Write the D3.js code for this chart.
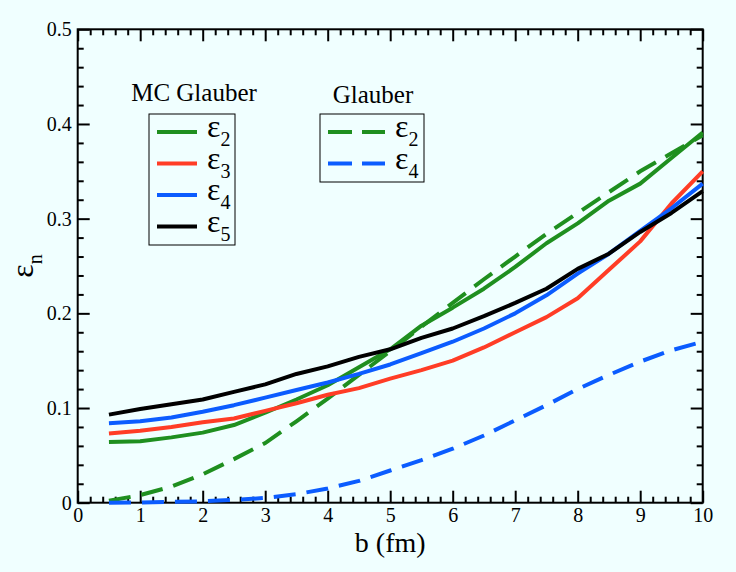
<!DOCTYPE html>
<html lang="en">
<head>
	<meta charset="UTF-8">
	<title>Eccentricity vs impact parameter</title>
	<style>
		body { margin: 0; background: #f0ffff; }
		text { font-family: "Liberation Serif", "Times New Roman", serif; fill: #000; }
		.axis path, .axis line { stroke: #000; stroke-width: 2; }
		.axis .domain { display: none; }
	</style>
</head>
<body>
	<svg id="chart"></svg>
	<script src="https://cdn.jsdelivr.net/npm/d3@7"></script>
	<script>
		// impact parameter (fm)
		var bValues = [0.5, 1, 1.5, 2, 2.5, 3, 3.5, 4, 4.5, 5, 5.5, 6, 6.5, 7, 7.5, 8, 8.5, 9, 9.5, 10];

		// MC Glauber
		var mcEps2 = [0.064, 0.065, 0.069, 0.074, 0.082, 0.095, 0.109, 0.124, 0.143, 0.162, 0.187, 0.206, 0.226, 0.249, 0.274, 0.295, 0.319, 0.337, 0.364, 0.391];
		var mcEps3 = [0.073, 0.076, 0.080, 0.085, 0.089, 0.097, 0.105, 0.114, 0.121, 0.131, 0.140, 0.150, 0.164, 0.180, 0.196, 0.216, 0.246, 0.276, 0.316, 0.350];
		var mcEps4 = [0.084, 0.086, 0.090, 0.096, 0.103, 0.111, 0.119, 0.127, 0.136, 0.146, 0.158, 0.170, 0.184, 0.200, 0.219, 0.242, 0.263, 0.287, 0.311, 0.337];
		var mcEps5 = [0.093, 0.099, 0.104, 0.109, 0.117, 0.125, 0.136, 0.144, 0.154, 0.162, 0.174, 0.184, 0.197, 0.211, 0.226, 0.247, 0.263, 0.286, 0.306, 0.329];

		// optical Glauber
		var glEps2 = [0.002, 0.008, 0.017, 0.030, 0.046, 0.063, 0.086, 0.110, 0.135, 0.160, 0.186, 0.211, 0.236, 0.260, 0.284, 0.306, 0.328, 0.350, 0.369, 0.388];
		var glEps4 = [0.0, 0.0003, 0.0008, 0.0015, 0.003, 0.005, 0.009, 0.015, 0.023, 0.034, 0.045, 0.057, 0.071, 0.087, 0.103, 0.120, 0.135, 0.149, 0.161, 0.170];

		var xTicks = [0, 1, 2, 3, 4, 5, 6, 7, 8, 9, 10];
		var yTicks = [0, 0.1, 0.2, 0.3, 0.4, 0.5];

		var green = "#1f8f1f", red = "#ff3d26", blue = "#0b5cff", black = "#000000";

		var mcSeries = [
			{sub: "2", values: mcEps2, color: green},
			{sub: "3", values: mcEps3, color: red},
			{sub: "4", values: mcEps4, color: blue},
			{sub: "5", values: mcEps5, color: black}
		];
		var glSeries = [
			{sub: "2", values: glEps2, color: green},
			{sub: "4", values: glEps4, color: blue}
		];

		var w = 736, h = 572;
		var svg = d3.select("#chart").attr("width", w).attr("height", h);
		svg.append("rect").attr("width", w).attr("height", h).attr("fill", "#f0ffff");

		var x = d3.scaleLinear().domain([0, 10]).range([77.7, 702.7]);
		var y = d3.scaleLinear().domain([0, 0.5]).range([502.7, 29.3]);

		var xMinor = d3.range(0, 10.01, 0.2).filter(function (d) { return Math.abs(d - Math.round(d)) > 1e-6; });
		var yMinor = d3.range(0, 0.501, 0.02).filter(function (d) { return Math.abs(d * 10 - Math.round(d * 10)) > 1e-6; });

		function addAxis(axisFn, scale, major, minor, transform, labels, pad, fmt) {
			var g = svg.append("g").attr("class", "axis").attr("transform", transform);
			g.call(axisFn(scale).tickValues(minor).tickSize(-6).tickFormat(""));
			var g2 = svg.append("g").attr("class", "axis").attr("transform", transform);
			g2.call(axisFn(scale).tickValues(major).tickSize(-12).tickPadding(pad)
				.tickFormat(labels ? fmt : ""));
			g2.selectAll("text").style("font-size", "20px").style("font-family", "Liberation Serif");
			return g2;
		}

		addAxis(d3.axisBottom, x, xTicks, xMinor, "translate(0," + y(0) + ")", true, 5, d3.format("d"));
		addAxis(d3.axisTop, x, xTicks, xMinor, "translate(0," + y(0.5) + ")", false, 0);
		addAxis(d3.axisLeft, y, yTicks, yMinor, "translate(" + x(0) + ",0)", true, 6, function (d) { return d === 0 ? "0" : d3.format(".1f")(d); });
		addAxis(d3.axisRight, y, yTicks, yMinor, "translate(" + x(10) + ",0)", false, 0);

		// frame
		svg.append("rect")
			.attr("x", x(0)).attr("y", y(0.5))
			.attr("width", x(10) - x(0)).attr("height", y(0) - y(0.5))
			.attr("fill", "none").attr("stroke", "#000").attr("stroke-width", 2);

		var line = d3.line()
			.x(function (d) { return x(d[0]); })
			.y(function (d) { return y(d[1]); });

		function pairs(vals) { return bValues.map(function (b, i) { return [b, vals[i]]; }); }

		glSeries.forEach(function (s) {
			svg.append("path").datum(pairs(s.values)).attr("d", line)
				.attr("fill", "none").attr("stroke", s.color).attr("stroke-width", 4)
				.attr("stroke-dasharray", "22,11");
		});
		mcSeries.forEach(function (s) {
			svg.append("path").datum(pairs(s.values)).attr("d", line)
				.attr("fill", "none").attr("stroke", s.color).attr("stroke-width", 4)
				.attr("stroke-linejoin", "round");
		});

		// axis titles
		svg.append("text").attr("x", x(5)).attr("y", 552)
			.attr("text-anchor", "middle").style("font-size", "28px").text("b (fm)");
		var yl = svg.append("text").attr("transform", "translate(33,266) rotate(-90)")
			.attr("text-anchor", "middle").style("font-size", "32px");
		yl.append("tspan").text("\u03b5");
		yl.append("tspan").attr("dy", 9).style("font-size", "20px").text("n");

		// legends
		function legend(title, titleX, titleY, box, series, dashed) {
			svg.append("text").attr("x", titleX).attr("y", titleY)
				.attr("text-anchor", "middle").style("font-size", "25px").text(title);
			svg.append("rect").attr("x", box.x).attr("y", box.y)
				.attr("width", box.w).attr("height", box.h)
				.attr("fill", "none").attr("stroke", "#000").attr("stroke-width", 1);
			series.forEach(function (s, i) {
				var yy = box.y + 18 + i * 31.5;
				svg.append("line")
					.attr("x1", box.x + 8).attr("x2", box.x + box.lineW)
					.attr("y1", yy).attr("y2", yy)
					.attr("stroke", s.color).attr("stroke-width", 4)
					.attr("stroke-dasharray", dashed ? "24,10" : null);
				var t = svg.append("text").attr("x", box.x + box.lineW + 10).attr("y", yy + 5)
					.style("font-size", "32px");
				t.append("tspan").text("\u03b5");
				t.append("tspan").attr("dy", 9).style("font-size", "20px").text(s.sub);
			});
		}
		legend("MC Glauber", 194, 101, {x: 149, y: 114, w: 86, h: 131, lineW: 48}, mcSeries, false);
		legend("Glauber", 373, 103, {x: 320, y: 114, w: 104, h: 68, lineW: 65}, glSeries, true);
	</script>
</body>
</html>
